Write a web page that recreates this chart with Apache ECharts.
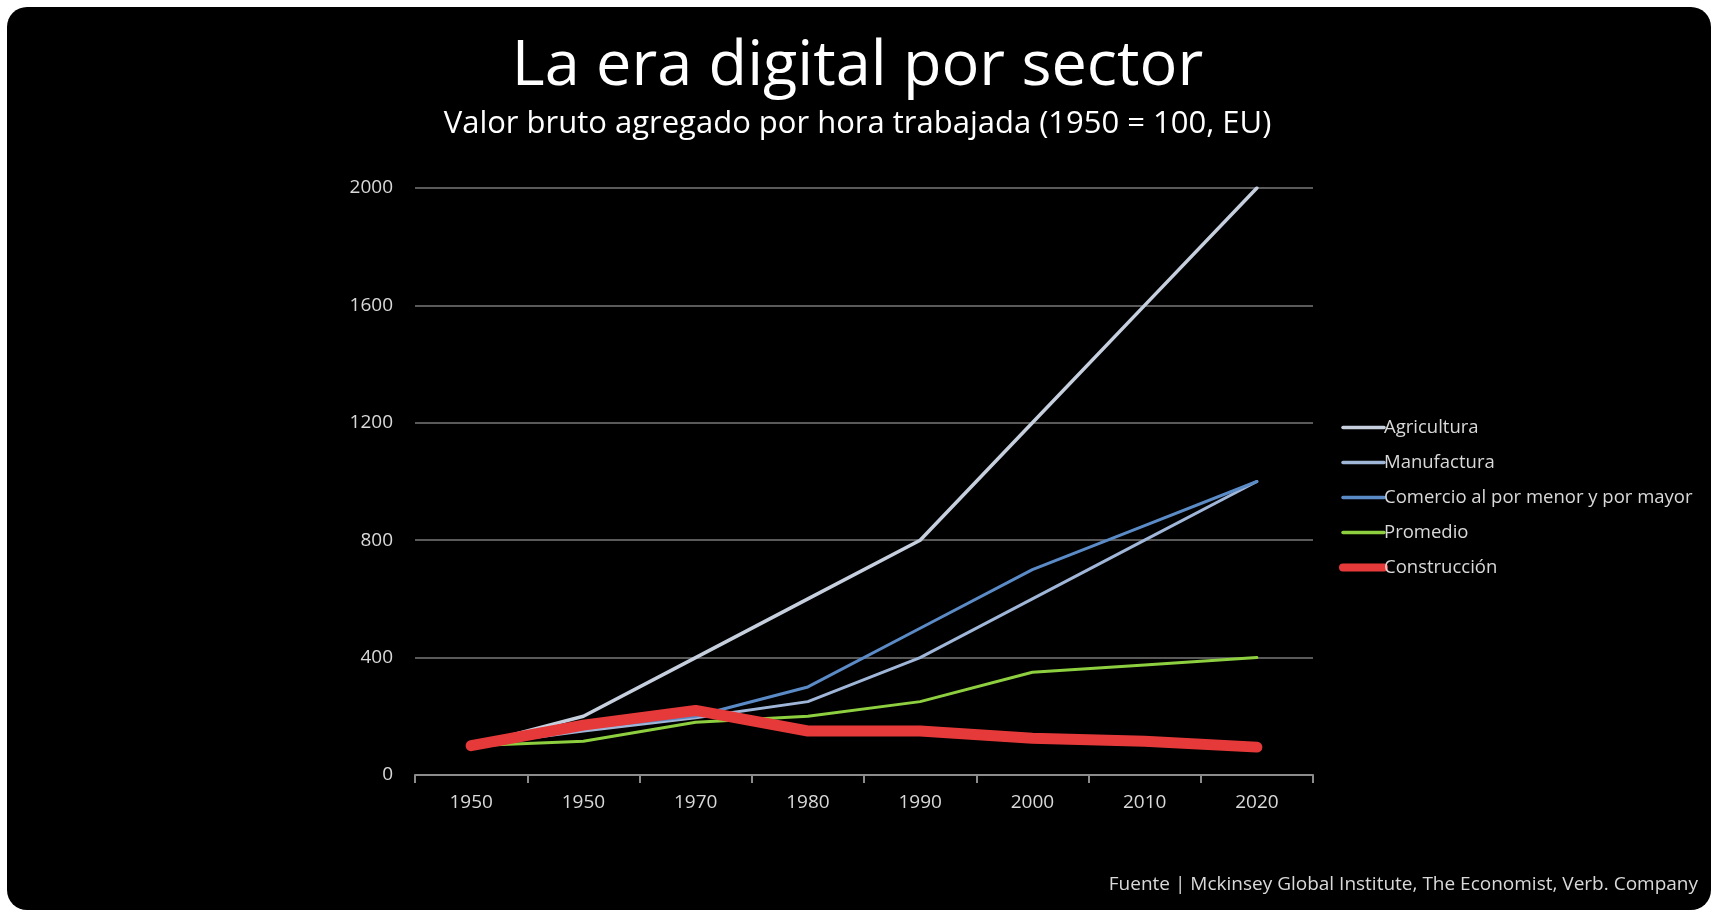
<!DOCTYPE html>
<html>
<head>
<meta charset="utf-8">
<script src="https://cdn.jsdelivr.net/npm/echarts@6/dist/echarts.min.js"></script>
<style>
html,body{margin:0;padding:0;background:#ffffff;width:1715px;height:913px;overflow:hidden;}
#bg{position:absolute;left:7px;top:7px;width:1704px;height:903px;background:#000;border-radius:20px;}
#chart{position:absolute;left:0;top:0;width:1715px;height:913px;}
</style>
</head>
<body>
<div id="bg"></div>
<div id="chart"></div>
<script>
const categories = ['1950', '1950', '1970', '1980', '1990', '2000', '2010', '2020'];
const agricultura = [100, 200, 400, 600, 800, 1200, 1600, 2000];
const manufactura = [100, 150, 195, 250, 400, 600, 800, 1000];
const comercio = [100, 160, 200, 300, 500, 700, 850, 1000];
const promedio = [100, 115, 180, 200, 250, 350, 375, 400];
const construccion = [100, 170, 220, 150, 150, 125, 115, 95];
const yTicks = [0, 400, 800, 1200, 1600, 2000];

const FONT = '"Open Sans", Lato, sans-serif';
const seriesNames = ['Agricultura', 'Manufactura', 'Comercio al por menor y por mayor', 'Promedio', 'Construcción'];
const seriesData = [agricultura, manufactura, comercio, promedio, construccion];
const colors = ['#c6cfdd', '#9fb6d8', '#5b8bc6', '#8dcf3f', '#e63a3a'];
const widths = [3.5, 3, 3, 3, 11];

const chart = echarts.init(document.getElementById('chart'), null, {renderer: 'canvas'});
chart.setOption({
  backgroundColor: 'transparent',
  animation: false,
  title: [
    {text: 'La era digital por sector', left: 'center', top: 31, padding: 5,
     textStyle: {color: '#ffffff', fontFamily: FONT, fontSize: 63, fontWeight: 'normal', lineHeight: 63}},
    {text: 'Valor bruto agregado por hora trabajada (1950 = 100, EU)', left: 'center', top: 104, padding: 5,
     textStyle: {color: '#ffffff', fontFamily: FONT, fontSize: 31, fontWeight: 'normal', lineHeight: 31}},
    {text: 'Fuente | Mckinsey Global Institute, The Economist, Verb. Company', right: 12, top: 870, padding: 5,
     textStyle: {color: '#d9d9d9', fontFamily: FONT, fontSize: 19, fontWeight: 'normal', lineHeight: 19}}
  ],
  legend: {
    orient: 'vertical',
    left: 1339,
    top: 418,
    padding: 0,
    itemWidth: 41,
    itemHeight: 14,
    itemGap: 16,
    itemStyle: {opacity: 0},
    textStyle: {color: '#d9d9d9', fontFamily: FONT, fontSize: 18.5, lineHeight: 14, padding: [0, 0, 0, -5]},
    data: seriesNames.map((n, i) => ({name: n, lineStyle: {width: i === 4 ? 8 : 3.5}}))
  },
  grid: {left: 415, right: 402, top: 188, bottom: 138, containLabel: false},
  xAxis: {
    type: 'category',
    data: categories,
    boundaryGap: true,
    axisLine: {show: true, lineStyle: {color: '#8c8c8c', width: 2}},
    axisTick: {show: true, length: 8, lineStyle: {color: '#8c8c8c', width: 2}},
    axisLabel: {color: '#d9d9d9', fontFamily: FONT, fontSize: 19, margin: 18},
    splitLine: {show: false}
  },
  yAxis: {
    type: 'value',
    min: yTicks[0],
    max: yTicks[yTicks.length - 1],
    interval: 400,
    axisLine: {show: false},
    axisTick: {show: false},
    axisLabel: {color: '#d9d9d9', fontFamily: FONT, fontSize: 19, margin: 22, formatter: v => String(v)},
    splitLine: {show: true, lineStyle: {color: '#5a5a5a', width: 2}}
  },
  series: seriesNames.map((n, i) => ({
    name: n,
    type: 'line',
    data: seriesData[i],
    symbol: 'none',
    showSymbol: false,
    z: 2 + i,
    lineStyle: {color: colors[i], width: widths[i], cap: 'round', join: 'round'},
    itemStyle: {color: colors[i]}
  }))
});
</script>
</body>
</html>
